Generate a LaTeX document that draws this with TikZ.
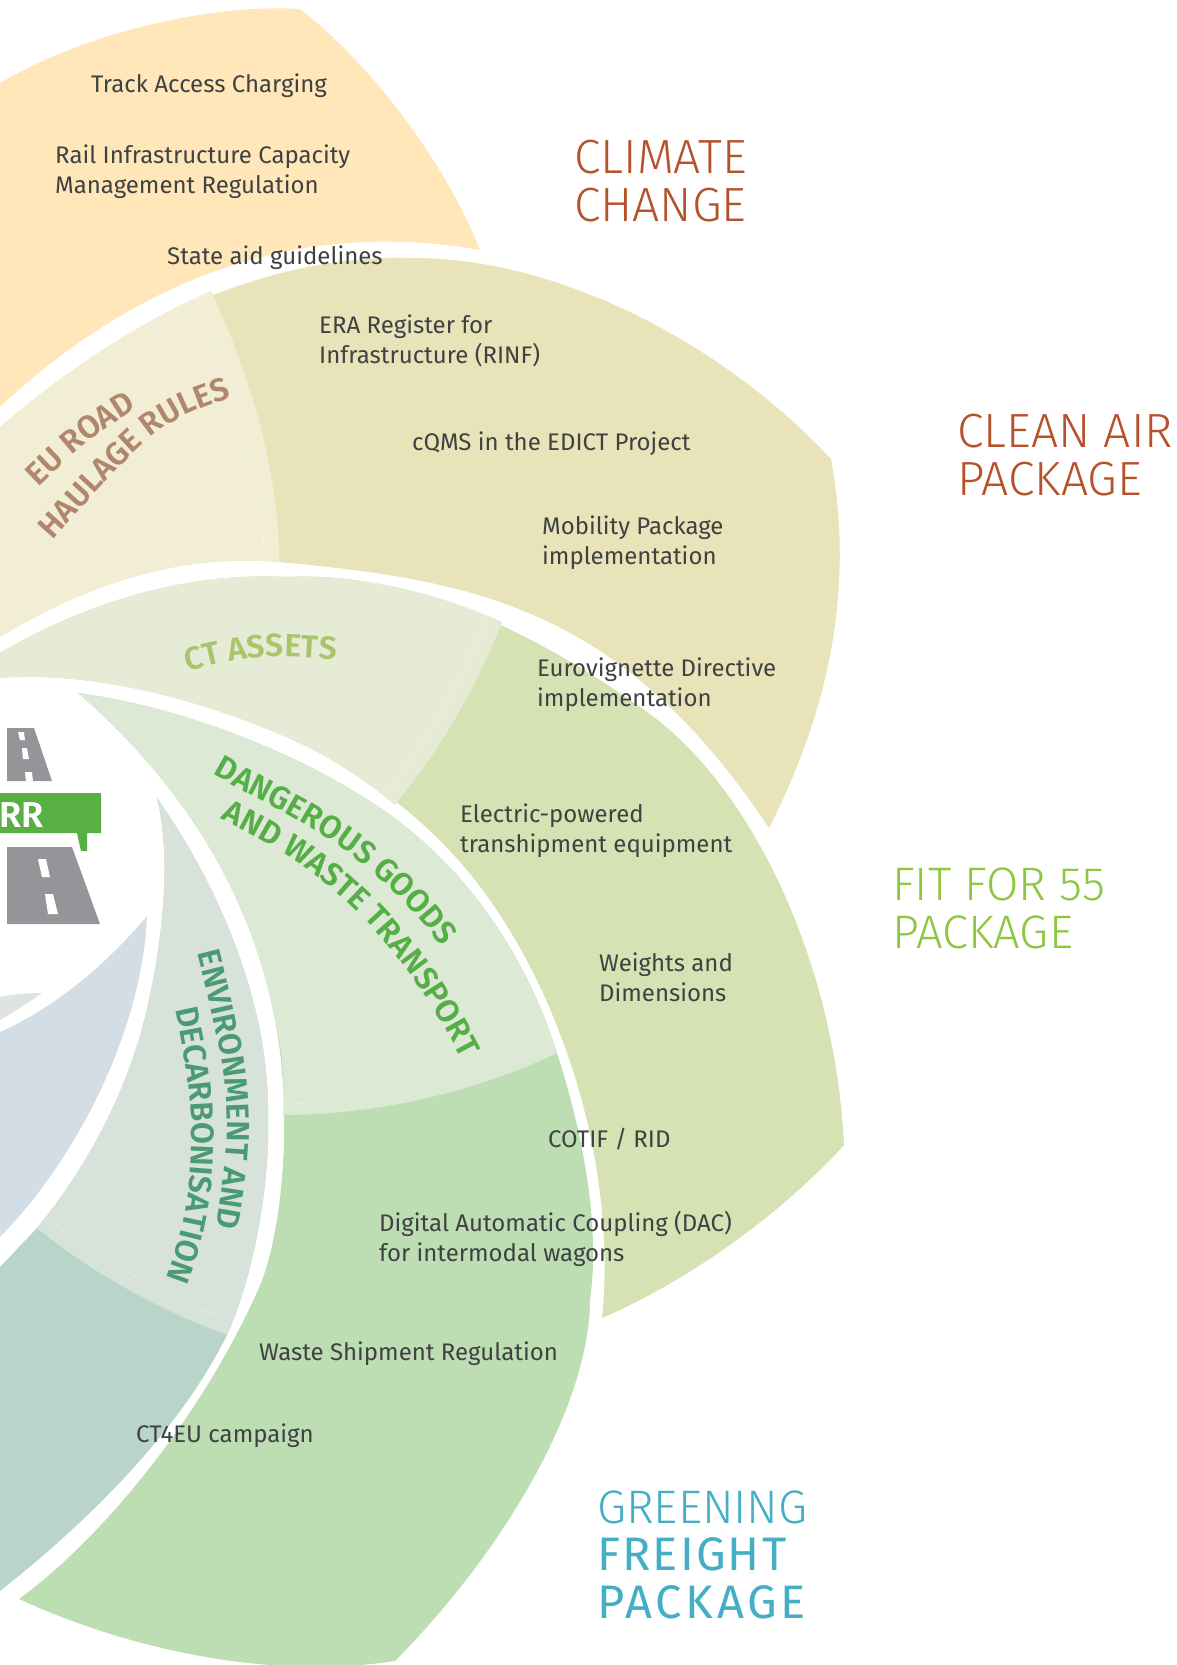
\documentclass[tikz,border=0pt]{standalone}
\usepackage{fontspec}
\setmainfont{Fira Sans}
\newfontfamily\lightfont{Fira Sans Light}
\newfontfamily\labelfamily{Fira Sans SemiBold}
\newfontfamily\tealfontA[LetterSpace=4.5]{Fira Sans}
\newfontfamily\tealfontB[LetterSpace=8]{Fira Sans}
\usetikzlibrary{decorations.text}
\definecolor{cOrange}{HTML}{FFE7BA}
\definecolor{cTwoD}{HTML}{E8E3B8}
\definecolor{cTwoL}{HTML}{F2EED6}
\definecolor{cThreeD}{HTML}{D6E2B3}
\definecolor{cThreeL}{HTML}{E6EBD6}
\definecolor{cFourD}{HTML}{BDDDB2}
\definecolor{cFourL}{HTML}{DCE9D5}
\definecolor{cFiveD}{HTML}{B9D5C9}
\definecolor{cFiveL}{HTML}{D7E2DB}
\definecolor{cSix}{HTML}{D3DDE6}
\definecolor{cSeven}{HTML}{E0E4E1}
\definecolor{cRoad}{HTML}{939598}
\definecolor{cSign}{HTML}{58AF43}
\definecolor{cTxt}{HTML}{3F4142}
\definecolor{cBrown}{HTML}{B5522B}
\definecolor{cLime}{HTML}{8DC63F}
\definecolor{cTeal}{HTML}{44AEC5}
\definecolor{cLabRoad}{HTML}{B0876C}
\definecolor{cLabCT}{HTML}{A9C46A}
\definecolor{cLabDang}{HTML}{55AE46}
\definecolor{cLabEnv}{HTML}{4A9A74}
\newcommand{\labfont}{\labelfamily\fontsize{32}{33}\selectfont}
\tikzset{
  item/.style={anchor=base west,align=left,inner sep=0pt,text=cTxt,
    font=\fontsize{24}{30}\selectfont},
  headline/.style={anchor=base west,align=left,inner sep=0pt,
    font=\lightfont\fontsize{48}{47.5}\selectfont},
  thinline/.style={draw=white,opacity=.35,line width=.6pt},
  curved/.style={decorate,decoration={text along path,text align=center,text={#1}}}
}
\begin{document}
\begin{tikzpicture}[x=1pt,y=-1pt]
\useasboundingbox (0,0) rectangle (1177,1665);
\clip (0,0) rectangle (1177,1665);
% orange petal
\fill[cOrange] (0,83) .. controls (100,25) and (227,4) .. (300,9)
  .. controls (360,55) and (440,150) .. (480,250)
  .. controls (320,222) and (155,262) .. (0,407) -- cycle;
% petal 2
\fill[cTwoD] (0,427) .. controls (123,321) and (270,253) .. (414,258)
  .. controls (555,258) and (720,340) .. (831,459)
  .. controls (853,580) and (834,700) .. (769,828)
  .. controls (622,607) and (474,580) .. (279,562)
  .. controls (180,553) and (85,585) .. (0,637) -- cycle;
\fill[cTwoL] (0,427) .. controls (67,369) and (138,323) .. (211,291)
  .. controls (250,375) and (279,470) .. (279,562)
  .. controls (180,553) and (85,585) .. (0,637) -- cycle;
\draw[thinline] (196,297) .. controls (236,380) and (264,475) .. (264,563);
% petal 3
\fill[cThreeD] (0,653) .. controls (90,600) and (190,572) .. (286,577)
  .. controls (410,570) and (540,635) .. (647,712)
  .. controls (750,785) and (835,960) .. (844,1145)
  .. controls (780,1215) and (690,1280) .. (602,1318)
  .. controls (616,1180) and (572,1025) .. (500,915)
  .. controls (445,830) and (370,775) .. (293,740)
  .. controls (215,705) and (100,670) .. (0,678) -- cycle;
\fill[cThreeL] (0,653) .. controls (90,600) and (190,572) .. (286,577)
  .. controls (360,574) and (435,592) .. (502,622)
  .. controls (475,690) and (440,750) .. (395,805)
  .. controls (365,780) and (330,757) .. (293,740)
  .. controls (215,705) and (100,670) .. (0,678) -- cycle;
\draw[thinline] (488,615) .. controls (462,685) and (428,740) .. (385,795);
% petal 4
\fill[cFourD] (78,693) .. controls (170,705) and (280,745) .. (360,795)
  .. controls (445,845) and (520,935) .. (557,1053)
  .. controls (585,1140) and (600,1230) .. (590,1300)
  .. controls (589.5,1407) and (502,1553) .. (395,1661)
  .. controls (270,1680) and (130,1650) .. (19,1599)
  .. controls (100,1540) and (200,1420) .. (258,1290)
  .. controls (285,1230) and (293,1100) .. (273,1010)
  .. controls (250,900) and (190,790) .. (78,693) -- cycle;
\fill[cFourL] (78,693) .. controls (170,705) and (280,745) .. (360,795)
  .. controls (445,845) and (520,935) .. (557,1053)
  .. controls (480,1090) and (380,1115) .. (283,1115)
  .. controls (285,1080) and (282,1045) .. (273,1010)
  .. controls (250,900) and (190,790) .. (78,693) -- cycle;
\draw[thinline] (283,1104) .. controls (380,1103) and (480,1075) .. (552,1040);
% petal 5
\fill[cFiveD] (157,798) .. controls (215,880) and (270,1000) .. (268,1117)
  .. controls (270,1190) and (252,1280) .. (227,1335)
  .. controls (180,1430) and (90,1520) .. (0,1591)
  -- (0,1267) -- (37,1228)
  .. controls (85,1170) and (130,1090) .. (149,1000)
  .. controls (162,940) and (172,860) .. (157,798) -- cycle;
\fill[cFiveL] (157,798) .. controls (215,880) and (270,1000) .. (268,1117)
  .. controls (270,1190) and (252,1280) .. (227,1335)
  .. controls (160,1310) and (95,1275) .. (37,1228)
  .. controls (85,1170) and (130,1090) .. (149,1000)
  .. controls (162,940) and (172,860) .. (157,798) -- cycle;
\draw[thinline] (47,1218) .. controls (105,1262) and (165,1297) .. (230,1320);
% petal 6 and 7
\fill[cSix] (147,916) .. controls (143,1020) and (85,1150) .. (0,1237)
  -- (0,1032) .. controls (60,1005) and (110,960) .. (147,916) -- cycle;
\fill[cSeven] (0,997) .. controls (14,994) and (28,993) .. (42,993)
  .. controls (28,1003) and (14,1012) .. (0,1020) -- cycle;
% roads
\fill[cRoad] (7,728) -- (34,728) -- (52,781) -- (7,781) -- cycle;
\fill[white] (18,732) -- (24,732) -- (25,740) -- (20,740) -- cycle
  (22,748) -- (27,748) -- (29,759) -- (23,759) -- cycle
  (25,772) -- (32,772) -- (33,781) -- (26,781) -- cycle;
\fill[cRoad] (7,847) -- (72,847) -- (100,924) -- (7,924) -- cycle;
\fill[white] (38,859) -- (46,859) -- (50,877) -- (42,877) -- cycle
  (45,894) -- (53,894) -- (58,914) -- (48,914) -- cycle;
\fill[cSign] (0,793) -- (101,793) -- (101,833) -- (87,833) -- (87,851) -- (81,851) -- (77,833) -- (0,833) -- cycle;
\node[anchor=base east,inner sep=0pt,text=white,font=\labelfamily\fontsize{36}{36}\selectfont] (rr) at (44,827) {RR};
% items
\node[item] (n1) at (91,92) {Track Access Charging};
\node[item] (n2) at (55,193) {Rail Infrastructure Capacity\\Management Regulation};
\node[item] (n3) at (167,264) {State aid guidelines};
\node[item] (n4) at (319,363) {ERA Register for\\Infrastructure (RINF)};
\node[item] (n5) at (412,450) {cQMS in the EDICT Project};
\node[item] (n6) at (542,564) {Mobility Package\\implementation};
\node[item] (n7) at (537,706) {Eurovignette Directive\\implementation};
\node[item] (n8) at (460,852) {Electric-powered\\transhipment equipment};
\node[item] (n9) at (599,1001) {Weights and\\Dimensions};
\node[item] (n10) at (548,1147) {COTIF / RID};
\node[item] (n11) at (379,1261) {Digital Automatic Coupling (DAC)\\for intermodal wagons};
\node[item] (n12) at (259,1360) {Waste Shipment Regulation};
\node[item] (n13) at (136,1442) {CT4EU campaign};
% headlines
\node[headline,text=cBrown] (h1) at (574,221) {CLIMATE\\CHANGE};
\node[headline,text=cBrown] (h2) at (957,495) {CLEAN AIR\\PACKAGE};
\node[headline,text=cLime,font=\lightfont\fontsize{47}{47.5}\selectfont] (h3) at (892,948) {FIT FOR 55\\PACKAGE};
\node[headline,text=cTeal] (h4) at (597,1618) {{\fontsize{47}{47.5}\selectfont GREENING}\\{\tealfontA\fontsize{47}{47.5}\selectfont FREIGHT}\\{\tealfontB\fontsize{47}{47.5}\selectfont PACKAGE}};
% curved labels
\path[curved={|\labfont\color{cLabRoad}|EU ROAD}] (28,497) .. controls (85,441.5) .. (149,401);
\path[curved={|\labfont\color{cLabRoad}|HAULAGE RULES}] (41,553) .. controls (159,421) .. (248,392);
\path[curved={|\labfont\color{cLabCT}|CT ASSETS}] (170,676) .. controls (255,654) .. (354,661);
\path[curved={|\labfont\color{cLabDang}|DANGEROUS GOODS}] (211,773) .. controls (282,815) and (360,839) .. (443,948);
\path[curved={|\labfont\color{cLabDang}|AND WASTE TRANSPORT}] (208,812) .. controls (271,845) and (377,887) .. (468,1072);
\path[curved={|\labfont\color{cLabEnv}|ENVIRONMENT AND}] (193,935) .. controls (232,1086) and (236,1124) .. (212,1245);
\path[curved={|\labfont\color{cLabEnv}|DECARBONISATION}] (172,995) .. controls (197,1097) and (203,1195) .. (160,1292);
\end{tikzpicture}
\end{document}
